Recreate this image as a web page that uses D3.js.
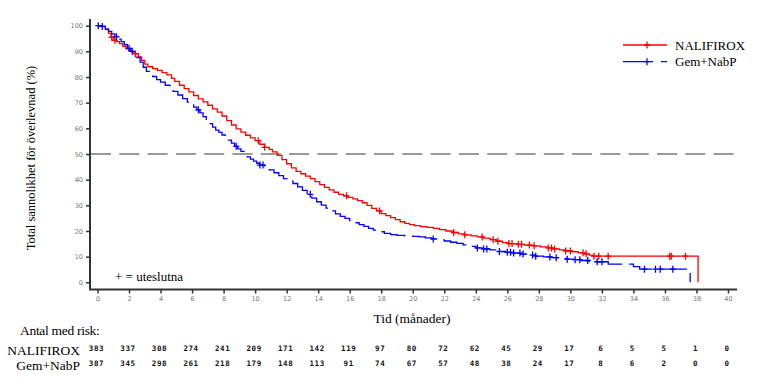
<!DOCTYPE html>
<html><head><meta charset="utf-8">
<script src="https://cdn.jsdelivr.net/npm/d3@7"></script>
<style>body{margin:0;background:#fff}svg{display:block}</style>
</head><body>
<svg id="c" width="779" height="386"></svg>
<script>
// ---- data ----
const seriesNames = ["NALIFIROX", "Gem+NabP"];
const naliTime = [0,0.3,0.5,0.7,0.85,1.0,1.2,1.4,1.6,1.8,2.0,2.2,2.4,2.6,2.8,3.0,3.2,3.5,3.8,4.1,4.4,4.7,4.9,5.2,5.5,5.8,6.1,6.4,6.7,7.0,7.3,7.6,7.9,8.2,8.5,8.8,9.1,9.4,9.7,10.0,10.3,10.6,10.9,11.1,11.4,11.7,12.0,12.3,12.6,12.9,13.2,13.5,13.8,14.1,14.4,14.7,15.0,15.3,15.6,15.9,16.2,16.5,16.8,17.1,17.4,17.7,18.0,18.3,18.6,18.9,19.2,19.5,19.8,20.1,20.5,20.9,21.3,21.7,22.1,22.5,22.9,23.3,23.7,24.1,24.5,24.9,25.3,25.7,26.1,26.6,27.1,27.6,28.1,28.5,28.9,29.3,29.7,30.1,30.5,30.9,31.2,31.4,38.1];
const naliSurv = [100,99.7,98.5,97,95.5,94.3,93.8,93,92,91,90.3,89.7,89,87.8,86.5,85,84,83.3,82.6,81.7,80.8,79.5,78.3,76.8,75.5,74.2,72.8,71.5,70.3,69,67.6,66.3,64.8,63,61.3,59.8,58.5,57.3,56.3,55.2,53.8,52.6,51.8,50.8,49.5,47.8,46.2,44.6,43.2,42.3,41.4,40.4,39.2,38.1,37,36,35.1,34.3,33.7,33.1,32.5,31.8,31,30,28.8,27.8,26.8,26,25.2,24.4,23.6,23,22.5,22.1,21.7,21.4,21,20.5,20,19.4,18.9,18.5,18.1,17.7,17.2,16.6,16,15.5,15.1,14.8,14.5,14.2,13.8,13.4,13,12.6,12.2,11.9,11.5,11.1,10.6,10.2,0];
const gemTime = [0,0.3,0.5,0.7,0.9,1.1,1.3,1.5,1.7,1.9,2.1,2.3,2.5,2.7,2.9,3.1,3.3,3.5,3.75,4.0,4.3,4.6,4.8,5.1,5.4,5.7,5.9,6.1,6.3,6.5,6.7,6.9,7.1,7.3,7.5,7.7,7.9,8.1,8.3,8.5,8.7,8.9,9.1,9.3,9.5,9.7,9.9,10.1,10.3,10.6,10.9,11.2,11.5,11.8,12.1,12.4,12.7,13.0,13.3,13.6,13.9,14.2,14.5,14.8,15.1,15.4,15.7,16.0,16.3,16.6,16.9,17.2,17.5,17.8,18.2,18.6,19.0,19.5,20.0,20.4,20.8,21.2,21.6,22.0,22.4,22.8,23.2,23.6,24.0,24.4,24.9,25.4,25.9,26.4,26.9,27.4,27.8,28.3,28.8,29.2,29.7,30.2,30.7,31.2,31.7,32.4,34.0,34.4,37.6];
const gemSurv = [100,99.7,98.8,97.8,96.8,95.7,94.8,93.8,92.6,91.2,90,88.8,87.6,85.8,83.8,82.2,81.2,80.2,79,78,76.8,75.4,74.4,73,71.6,70.2,69.2,68.3,67.2,66,64.6,63.2,61.8,60.5,59.3,58.4,57.4,56.4,55.4,54.2,53,52,51,50,48.9,48,47.2,46.4,45.7,44.8,43.8,42.7,41.6,40.4,39.4,38.5,37.2,35.8,34.3,32.8,31.4,30.1,28.9,27.8,26.7,25.7,24.9,24,23.2,22.5,21.8,21,20.3,19.7,19.1,18.6,18.3,18,17.9,17.7,17.3,16.9,16.5,16.1,15.6,15.2,14.6,14,13.4,13,12.6,12,11.7,11.4,11,10.6,10.2,9.9,9.6,9.3,9,8.8,8.5,8.2,8,7.1,6.1,5.1,0];
const naliCens = [0.9,1.1,2.4,10.2,10.6,15.8,17.9,22.6,23.3,24.4,25.1,25.4,26.1,26.3,26.7,26.9,27.4,27.7,28.6,28.8,29.0,29.7,30.0,30.8,31.0,31.5,31.8,32.4,36.3,36.4,37.3];
const gemCens = [0.05,0.3,1.2,2.0,2.2,6.4,8.8,10.3,10.5,13.5,21.3,24.1,24.5,24.7,25.5,26.0,26.2,26.4,26.8,27.0,27.6,27.8,28.7,29.1,29.8,30.3,30.6,31.1,31.7,32.0,34.7,35.4,35.7,36.5];
const xTicks = [0,2,4,6,8,10,12,14,16,18,20,22,24,26,28,30,32,34,36,38,40];
const yTicks = [0,10,20,30,40,50,60,70,80,90,100];
const riskNali = [383,337,308,274,241,209,171,142,119,97,80,72,62,45,29,17,6,5,5,1,0];
const riskGem = [387,345,298,261,218,179,148,113,91,74,67,57,48,38,24,17,8,6,2,0,0];
const refLine = 50;

// ---- chart ----
const svg = d3.select("#c");
const x = d3.scaleLinear().domain([0,40]).range([97.5,728]);
const y = d3.scaleLinear().domain([0,100]).range([282.3,25.7]);
const axX = 90, axY = 289.5;
const red = "#ff0000", blue = "#0000ff";
const SERIF = '"Liberation Serif"';
const SANS = '"DejaVu Sans"';
const MONO = '"DejaVu Sans Mono"';

svg.append("line").attr("x1",axX).attr("x2",axX).attr("y1",19).attr("y2",axY+0.5)
  .attr("stroke","#333").attr("stroke-width",2);
svg.append("line").attr("x1",axX-1).attr("x2",737).attr("y1",axY).attr("y2",axY)
  .attr("stroke","#333").attr("stroke-width",2);

const gy = svg.append("g").attr("transform",`translate(${axX},0)`)
  .call(d3.axisLeft(y).tickValues(yTicks).tickSize(4).tickPadding(3));
gy.select(".domain").remove();
gy.selectAll(".tick line").attr("stroke","#333").attr("stroke-width",1.5);
gy.selectAll(".tick text").attr("fill","#777").style("font-family",SANS).style("font-size","6.5px");

const gx = svg.append("g").attr("transform",`translate(0,${axY})`)
  .call(d3.axisBottom(x).tickValues(xTicks).tickSize(4).tickPadding(3));
gx.select(".domain").remove();
gx.selectAll(".tick line").attr("stroke","#333").attr("stroke-width",1.5);
gx.selectAll(".tick text").attr("fill","#777").style("font-family",SANS).style("font-size","6.5px");

svg.append("line").attr("x1",axX+1).attr("x2",737).attr("y1",y(refLine)).attr("y2",y(refLine))
  .attr("stroke","#999").attr("stroke-width",2.2).attr("stroke-dasharray","20,8.3");

const line = d3.line().x(d=>x(d[0])).y(d=>y(d[1])).curve(d3.curveStepAfter);
const naliPts = naliTime.map((t,i)=>[t,naliSurv[i]]);
const gemPts = gemTime.map((t,i)=>[t,gemSurv[i]]);
svg.append("path").attr("d",line(naliPts)).attr("fill","none").attr("stroke",red).attr("stroke-width",1.3);
svg.append("path").attr("d",line(gemPts)).attr("fill","none").attr("stroke",blue).attr("stroke-width",1.3)
  .attr("stroke-dasharray","28,7");

function survAt(times, surv, t){
  let v = surv[0];
  for(let i=0;i<times.length;i++){ if(times[i]<=t) v=surv[i]; else break; }
  return v;
}
function drawCens(cens, times, surv, col){
  const g = svg.append("g");
  cens.forEach(t=>{
    const cx = x(t), cy = y(survAt(times,surv,t));
    g.append("path").attr("d",`M${cx-3},${cy}H${cx+3}M${cx},${cy-3.5}V${cy+3.5}`)
      .attr("stroke",col).attr("stroke-width",1.3).attr("fill","none");
  });
}
drawCens(naliCens, naliTime, naliSurv, red);
drawCens(gemCens, gemTime, gemSurv, blue);

function stext(xp, yp, str, size, anchor){
  return svg.append("text").attr("x",xp).attr("y",yp).attr("text-anchor",anchor||"start")
    .attr("fill","#000").style("font-family",SERIF).style("font-size",size+"px").text(str);
}

const legCols = [red, blue];
seriesNames.forEach((n,i)=>{
  const ly = 45 + i*16.7;
  svg.append("line").attr("x1",623).attr("x2",667).attr("y1",ly).attr("y2",ly)
    .attr("stroke",legCols[i]).attr("stroke-width",1.3)
    .attr("stroke-dasharray", i===1 ? "30,8" : null);
  svg.append("path").attr("d",`M${644},${ly}H${650}M${647},${ly-3.5}V${ly+3.5}`)
    .attr("stroke",legCols[i]).attr("stroke-width",1.3);
  stext(675, ly+4.5, n, 13);
});

svg.append("text").attr("transform","translate(35,158) rotate(-90)").attr("text-anchor","middle")
  .style("font-family",SERIF).style("font-size","12.5px").text("Total sannolikhet för överlevnad (%)");
stext(412, 323, "Tid (månader)", 13.5, "middle");
stext(115, 281, "+ = uteslutna", 13);

stext(20, 335, "Antal med risk:", 13.5).attr("letter-spacing",-0.3);
stext(80, 355, seriesNames[0], 13.5, "end");
stext(80, 370, seriesNames[1], 13.5, "end");
[riskNali, riskGem].forEach((row,ri)=>{
  svg.append("g").selectAll("text").data(row).join("text")
    .attr("x",(d,i)=>x(xTicks[i])-1).attr("y",351+ri*15).attr("text-anchor","middle")
    .style("font-family",MONO).style("font-size","7.5px").style("font-weight","bold")
    .attr("letter-spacing",0.6).attr("fill","#111").text(d=>d);
});
</script>
</body></html>
